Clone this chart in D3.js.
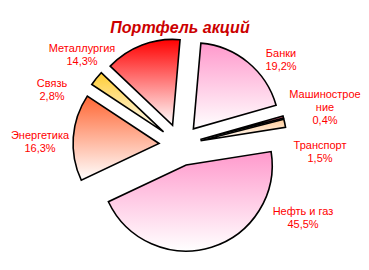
<!DOCTYPE html>
<html>
<head>
<meta charset="utf-8">
<script src="https://cdn.jsdelivr.net/npm/d3@7"></script>
<style>
  html, body { margin: 0; padding: 0; background: #fff; }
  svg { display: block; font-family: "Liberation Sans", Arial, sans-serif; }
</style>
</head>
<body>
<div id="chart"></div>
<script>
const sectors = ["Банки", "Машиностроение", "Транспорт", "Нефть и газ", "Энергетика", "Связь", "Металлургия"]
const shares = [19.2, 0.4, 1.5, 45.5, 16.3, 2.8, 14.3]
const topColors = ["#ff99cc", "#ff6680", "#ffcc99", "#ff99cc", "#ff6633", "#ffcc33", "#ff0000"]
const labelLines = [["Банки"], ["Машинострое", "ние"], ["Транспорт"], ["Нефть и газ"], ["Энергетика"], ["Связь"], ["Металлургия"]]

// label anchors (centre of first line), picked by eye
const labelAt = [[281, 53], [325, 94], [320, 145], [303, 211], [40, 135], [52, 83], [82, 48]]

const width = 369, height = 270,
  cx = 180, cy = 145,
  radius = 86, explode = 21

const fmt = v => String(v.toFixed(1)).replace(".", ",") + "%"

const svg = d3.select("#chart").append("svg")
  .attr("width", width).attr("height", height)

const defs = svg.append("defs")
topColors.forEach((c, i) => {
  const g = defs.append("linearGradient").attr("id", "grad" + i)
    .attr("x1", 0).attr("y1", 0).attr("x2", 0).attr("y2", 1)
  g.append("stop").attr("offset", "0%").attr("stop-color", c)
  g.append("stop").attr("offset", "100%").attr("stop-color", "#fff")
})

svg.append("text")
  .attr("x", cx).attr("y", 33)
  .attr("text-anchor", "middle")
  .attr("font-size", 16).attr("font-weight", "bold").attr("font-style", "italic")
  .attr("fill", "#cc0000")
  .text("Портфель акций")

const pie = d3.pie().sort(null).value(d => d)
  .startAngle(5 * Math.PI / 180).endAngle(5 * Math.PI / 180 + 2 * Math.PI)
const arc = d3.arc().innerRadius(0).outerRadius(radius)

const arcs = pie(shares)

svg.append("g").attr("class", "slices")
  .selectAll("path").data(arcs).join("path")
  .attr("transform", d => {
    const mid = (d.startAngle + d.endAngle) / 2
    return `translate(${cx + Math.sin(mid) * explode}, ${cy - Math.cos(mid) * explode})`
  })
  .attr("d", arc)
  .attr("fill", (d, i) => `url(#grad${i})`)
  .attr("stroke", "#000").attr("stroke-width", 1.6).attr("stroke-linejoin", "miter")

const labels = svg.append("g").attr("class", "labels")
  .selectAll("text").data(arcs).join("text")
  .attr("text-anchor", "middle")
  .attr("font-size", 11).attr("fill", "#ff0000")
  .attr("x", (d, i) => labelAt[i][0])
  .attr("y", (d, i) => labelAt[i][1] + 4)

labels.each(function(d, i) {
  const t = d3.select(this)
  const lines = labelLines[i].concat([fmt(shares[i])])
  lines.forEach((l, k) => {
    t.append("tspan").attr("x", labelAt[i][0]).attr("dy", k === 0 ? 0 : 13).text(l)
  })
})
</script>
</body>
</html>
